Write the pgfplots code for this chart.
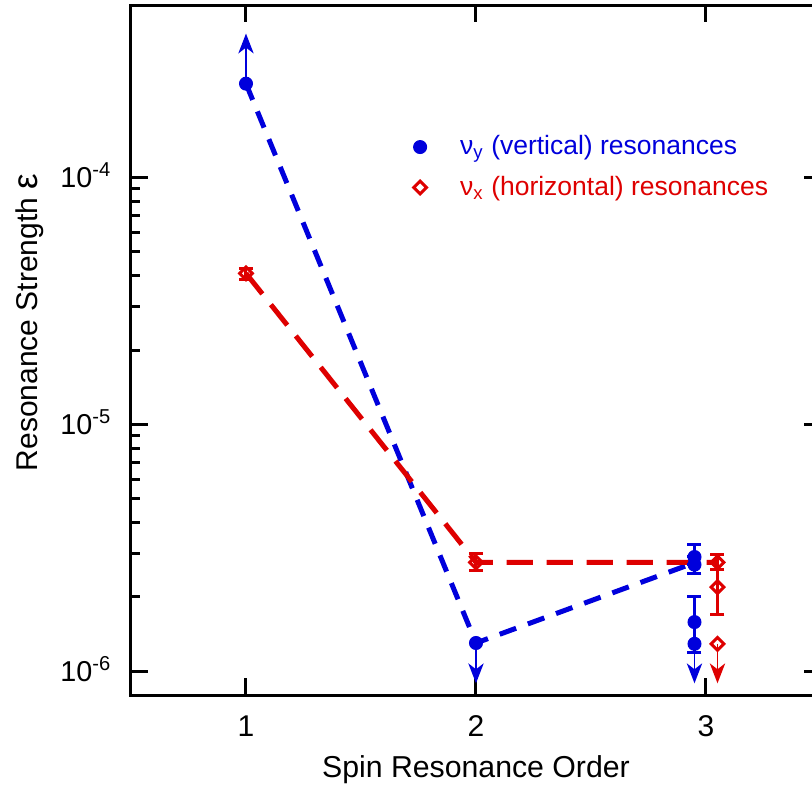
\documentclass[border=0pt]{standalone}
\usepackage{fontspec}
\setmainfont{Liberation Sans}
\usepackage{pgfplots}
\pgfplotsset{compat=1.18}
\usetikzlibrary{calc}

\definecolor{vblue}{RGB}{0,0,220}
\definecolor{hred}{RGB}{222,0,0}

% filled arrow head, tip at the origin, pointing along +x
% (pgfplots turns y error marks towards the error direction)
\pgfdeclareplotmark{arrowhead}{%
  \pgfpathmoveto{\pgfqpoint{0pt}{0pt}}%
  \pgfpathlineto{\pgfqpoint{-8pt}{3.1pt}}%
  \pgfpathlineto{\pgfqpoint{-5.6pt}{0pt}}%
  \pgfpathlineto{\pgfqpoint{-8pt}{-3.1pt}}%
  \pgfpathclose
  \pgfusepathqfill}

\begin{document}
\begin{tikzpicture}
\begin{axis}[
  width=276pt, height=276pt, scale only axis,
  xmin=0.5, xmax=3.5,
  ymode=log, ymin=8e-7, ymax=5e-4,
  axis line style={line width=1.2pt},
  every tick/.append style={line width=1.2pt, black},
  major tick length=6.8pt, minor tick length=3.6pt,
  xtick={1,2,3}, xticklabels={1,2,3},
  ytick={1e-6,1e-5,1e-4},
  yticklabels={10\textsuperscript{-6},10\textsuperscript{-5},10\textsuperscript{-4}},
  xticklabel style={font=\fontsize{12}{14}\selectfont, anchor=base, yshift=-16.4pt, inner sep=0pt},
  yticklabel style={font=\fontsize{11.5}{14}\selectfont, anchor=base east, xshift=-7.6pt, yshift=-4pt, inner sep=0pt},
  xlabel={Spin Resonance Order},
  xlabel style={at={(axis description cs:0.5,-0.1188)}, anchor=base, inner sep=0pt, font=\fontsize{12.1}{14}\selectfont},
  ylabel={Resonance Strength {\fontsize{14}{14}\selectfont ε}},
  ylabel style={at={(axis description cs:-0.1362,0.540)}, anchor=base, inner sep=0pt, font=\fontsize{12}{14}\selectfont},
  legend style={at={(axis description cs:0.398,0.826)}, anchor=north west, draw=none, fill=none,
    font=\fontsize{10.6}{12}\selectfont, row sep=3pt,
    /tikz/every odd column/.append style={column sep=11.4pt}},
  legend cell align=left,
  error bars/error bar style={line width=1.2pt},
  error bars/error mark=|,
  error bars/error mark options={line width=1.2pt, mark size=2.8pt},
]
\coordinate (SW) at (rel axis cs:0,0);
\coordinate (NE) at (rel axis cs:1,1);

% dashed guide lines
\addplot[forget plot, vblue, line width=2pt, dash pattern=on 7pt off 5pt] coordinates {
  (1,2.4e-4) (2,1.3e-6) (2.95,2.75e-6)};
\addplot[forget plot, hred, line width=2pt, dash pattern=on 10.5pt off 5.5pt] coordinates {
  (1,4.09e-5) (2,2.76e-6) (3.05,2.76e-6)};

% vertical resonances
\addplot[vblue, only marks, mark=*, mark size=2.6pt,
  error bars/.cd, y dir=both, y explicit]
  table[x=x, y=y, y error plus=ep, y error minus=em] {
  x     y        ep       em
  2.95  2.9e-6   0.37e-6  0
  2.95  2.7e-6   0        0.21e-6
  2.95  1.58e-6  0.42e-6  0.39e-6
};
\addlegendentry{\textcolor{vblue}{ν\textsubscript{y} (vertical) resonances}}

% horizontal resonances
\addplot[hred, only marks, mark=square, mark size=1.8pt,
  mark options={rotate=45, fill=white, line width=1.2pt},
  error bars/.cd, y dir=both, y explicit]
  table[x=x, y=y, y error plus=ep, y error minus=em] {
  x     y        ep       em
  1     4.09e-5  0.18e-5  0.23e-5
  2     2.76e-6  0.24e-6  0.20e-6
  3.05  2.76e-6  0.21e-6  0.18e-6
  3.05  2.19e-6  0.39e-6  0.50e-6
};
\addlegendentry{\textcolor{hred}{ν\textsubscript{x} (horizontal) resonances}}

% limits (arrows)
\addplot[forget plot, vblue, only marks, mark=*, mark size=2.6pt,
  error bars/.cd, y dir=plus, y explicit, error mark=arrowhead,
  error bar style={line width=0.7pt}]
  table[x=x, y=y, y error plus=ep] {
  x  y       ep
  1  2.4e-4  1.09e-4
};
\addplot[forget plot, vblue, only marks, mark=*, mark size=2.6pt,
  error bars/.cd, y dir=minus, y explicit, error mark=arrowhead,
  error bar style={line width=0.7pt}]
  table[x=x, y=y, y error minus=em] {
  x     y        em
  2     1.3e-6   0.32e-6
  2.95  1.29e-6  0.31e-6
};
\addplot[forget plot, hred, only marks, mark=square, mark size=1.8pt,
  mark options={rotate=45, fill=white, line width=1.2pt},
  error bars/.cd, y dir=minus, y explicit, error mark=arrowhead,
  error bar style={line width=0.7pt}]
  table[x=x, y=y, y error minus=em] {
  x     y        em
  3.05  1.29e-6  0.31e-6
};
\end{axis}
\pgfresetboundingbox
\path[use as bounding box] ($(SW)+(-52.4pt,-37.2pt)$) rectangle ($(NE)+(-3.6pt,2pt)$);
\end{tikzpicture}
\end{document}
